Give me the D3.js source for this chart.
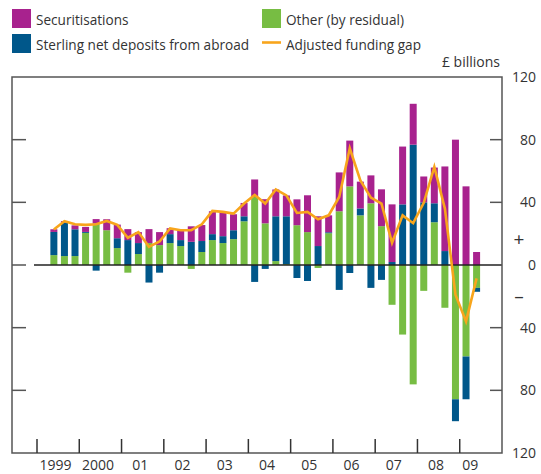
<!DOCTYPE html>
<html>
<head>
<meta charset="utf-8">
<script src="https://cdn.jsdelivr.net/npm/d3@7"></script>
<style>
  html, body { margin: 0; padding: 0; background: #fff; }
  svg { display: block; font-family: "Open Sans", "Noto Sans", sans-serif; }
  text { fill: #333; }
</style>
</head>
<body>
<svg id="chart" width="541" height="474"></svg>
<script>
// Quarters 1999 Q2 .. 2009 Q2
const years = ["1999","2000","01","02","03","04","05","06","07","08","09"];
const quarters = [];
for (let y = 1999; y <= 2009; y++) for (let q = 1; q <= 4; q++) quarters.push(y + " Q" + q);
const dataQuarters = quarters.slice(1, 42);

const securitisations = [1.7,1.1,2.5,3.2,2.8,7,8.7,7,7,8.9,8.3,3.8,6.3,9.9,10.2,14.6,15.2,10.2,8.5,11.2,15.4,17.1,13.3,16.5,23.5,19,10.8,24.8,29.2,17.1,17.8,23.5,36.8,36.9,26.1,16.5,22.8,54,80,50.2,8.3];
const sterlingDeposits = [14.8,21.2,17.1,0.6,-3.6,0,6.3,15.9,7,-11.2,-4.9,5.7,3.8,14.8,7,3.8,4.4,5.7,3.2,-10.8,-2.5,28.6,30.5,-8.3,-10.2,12.1,0.6,-15.9,-5.1,4.4,-14.6,-9.5,1.9,38.7,76.8,40,12.1,8.9,-14,-27.3,-2.5];
const otherResidual = [6.3,5.7,5.7,20.5,26.5,22.2,10.8,-4.9,7,14,12.7,14,12.1,-2.5,8.3,15.9,14,16.5,27.9,43.4,26.6,2.5,0.6,25.4,21,-1.9,20.3,34.3,50.2,31.7,39.4,24.8,-25.4,-44.4,-76.2,-16.5,27.3,-27.3,-85.7,-58.4,-14.6];
const fundingGap = [22.6,28,26,25.6,26,28.1,25.6,17.4,21,11.6,15,23.3,22.2,22.2,26,34.5,33.9,32.8,39.2,44.7,39.2,48.2,44.4,33.2,33.9,29.2,31.7,43.4,74.5,54,43,39.2,14.2,31.7,26.7,39.7,62.6,36,-19,-36,-8.5];

const yTicks = [120, 80, 40, 0, -40, -80, -120];
const colors = { other: "#77BD43", sterling: "#00578A", securitisations: "#A8228E", gap: "#F8A51C" };

const svg = d3.select("#chart");
const frame = { left: 12, right: 502, top: 77, bottom: 453 };

const x = d3.scaleBand().domain(quarters).range([37, 502]).paddingInner(0).paddingOuter(0);
const y = d3.scaleLinear().domain([-120, 120]).range([frame.bottom, frame.top]);

const rows = dataQuarters.map((q, i) => ({
  q, other: otherResidual[i], sterling: sterlingDeposits[i], securitisations: securitisations[i]
}));
const keys = ["other", "sterling", "securitisations"];
const series = d3.stack().keys(keys).offset(d3.stackOffsetDiverging)(rows);

const barW = 7, barOff = 2.8;

svg.append("g").selectAll("g").data(series).join("g")
  .attr("fill", d => colors[d.key])
  .selectAll("rect").data(d => d).join("rect")
  .attr("x", d => x(d.data.q) + barOff)
  .attr("width", barW)
  .attr("y", d => y(Math.max(d[0], d[1])))
  .attr("height", d => Math.abs(y(d[0]) - y(d[1])));

// zero line
svg.append("line").attr("x1", 34).attr("x2", frame.right)
  .attr("y1", y(0)).attr("y2", y(0)).attr("stroke", "#222").attr("stroke-width", 1.5);

// funding gap line
const line = d3.line()
  .x((d, i) => x(dataQuarters[i]) + barOff + barW / 2)
  .y(d => y(d));
svg.append("path").datum(fundingGap)
  .attr("fill", "none").attr("stroke", colors.gap).attr("stroke-width", 2.6)
  .attr("stroke-linejoin", "miter").attr("d", line);

// frame
svg.append("rect").attr("x", frame.left).attr("y", frame.top)
  .attr("width", frame.right - frame.left).attr("height", frame.bottom - frame.top)
  .attr("fill", "none").attr("stroke", "#555").attr("stroke-width", 1.5);

// left & right tick marks
const tickVals = [80, 40, 0, -40, -80];
svg.append("g").selectAll("line").data(tickVals).join("line")
  .attr("x1", frame.left).attr("x2", frame.left + 14)
  .attr("y1", d => y(d)).attr("y2", d => y(d))
  .attr("stroke", "#555").attr("stroke-width", 1.5);
svg.append("g").selectAll("line").data([80, 40, -40, -80]).join("line")
  .attr("x1", frame.right - 12).attr("x2", frame.right)
  .attr("y1", d => y(d)).attr("y2", d => y(d))
  .attr("stroke", "#555").attr("stroke-width", 1.5);

// right axis labels
const yAxis = d3.axisRight(y).tickValues(yTicks).tickSize(0).tickFormat(d => Math.abs(d));
const ya = svg.append("g").attr("transform", `translate(${frame.right},0)`).call(yAxis);
ya.select(".domain").remove();
ya.selectAll("text").attr("x", 34).attr("text-anchor", "end")
  .style("font-size", "14px").style("font-family", "'Open Sans', sans-serif").attr("fill", "#333");

svg.append("text").attr("x", 519).attr("y", 245.5).attr("text-anchor", "middle")
  .style("font-size", "19px").text("+");
svg.append("text").attr("x", 519).attr("y", 303).attr("text-anchor", "middle")
  .style("font-size", "19px").text("–");

svg.append("text").attr("x", 500).attr("y", 67).attr("text-anchor", "end")
  .style("font-size", "14px").text("£ billions");

// x ticks (year boundaries)
const yearStarts = d3.range(1999, 2010).map(yv => yv + " Q1");
svg.append("g").selectAll("line").data(yearStarts).join("line")
  .attr("x1", d => x(d)).attr("x2", d => x(d))
  .attr("y1", frame.bottom - 14).attr("y2", frame.bottom)
  .attr("stroke", "#333").attr("stroke-width", 1.5);

svg.append("g").selectAll("text").data(years).join("text")
  .attr("x", (d, i) => i === years.length - 1
      ? x(yearStarts[i]) + x.step()
      : x(yearStarts[i]) + x.step() * 2 - 2.5)
  .attr("y", 470).attr("text-anchor", "middle")
  .style("font-size", "14px").text(d => d);

// legend
const legend = [
  { label: "Securitisations", key: "securitisations", x: 12, y: 9, type: "rect" },
  { label: "Sterling net deposits from abroad", key: "sterling", x: 12, y: 34, type: "rect" },
  { label: "Other (by residual)", key: "other", x: 262, y: 9, type: "rect" },
  { label: "Adjusted funding gap", key: "gap", x: 262, y: 34, type: "line" }
];
const lg = svg.append("g").selectAll("g").data(legend).join("g");
lg.filter(d => d.type === "rect").append("rect")
  .attr("x", d => d.x).attr("y", d => d.y).attr("width", 19).attr("height", 19)
  .attr("fill", d => colors[d.key]);
lg.filter(d => d.type === "line").append("line")
  .attr("x1", d => d.x).attr("x2", d => d.x + 19)
  .attr("y1", d => d.y + 8.5).attr("y2", d => d.y + 8.5)
  .attr("stroke", colors.gap).attr("stroke-width", 2.6);
lg.append("text").attr("x", d => d.x + 24).attr("y", d => d.y + 15.5)
  .style("font-size", "13.6px").text(d => d.label);
</script>
</body>
</html>
